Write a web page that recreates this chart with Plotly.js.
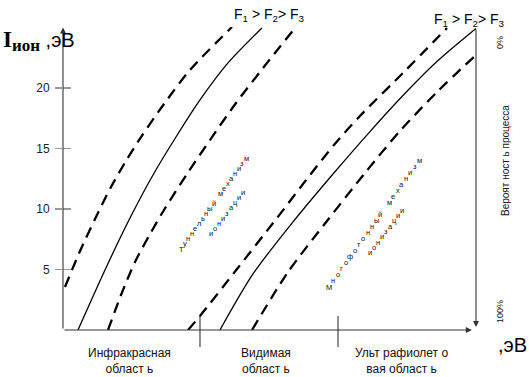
<!DOCTYPE html>
<html><head><meta charset="utf-8">
<script src="https://cdn.plot.ly/plotly-3.0.1.min.js"></script>
<style>html,body{margin:0;padding:0;background:#fff}</style>
</head><body><div id="chart" style="width:529px;height:377px"></div>
<script>
// ---- data (photon energy in arbitrary units, ionisation energy in eV) ----
const tickValues = [5, 10, 15, 20];
const tickLabels = ['5', '10', '15', '20'];

// tunnel mechanism group (left)
const tunnelF1x = [0.048, 0.412, 0.775, 1.162, 1.525, 1.889, 2.446, 3.075, 4.092];
const tunnelF1y = [3.55, 6.53, 9.17, 11.82, 13.97, 15.95, 18.68, 21.49, 25.04];
const tunnelF2x = [0.363, 1.017, 1.598, 2.179, 2.736, 3.317, 3.995, 4.818];
const tunnelF2y = [0, 4.96, 9.09, 12.81, 15.95, 19.01, 22.07, 24.96];
const tunnelF3x = [1.090, 1.404, 1.743, 2.107, 2.446, 3.002, 3.559, 4.189, 4.843, 5.617];
const tunnelF3y = [0, 2.89, 5.62, 7.93, 9.92, 12.89, 15.70, 18.76, 21.65, 24.96];

// multiphoton mechanism group (right)
const multiF1x = [3.027, 3.317, 4.213, 5.182, 5.981, 6.586, 7.191, 8.232, 9.298];
const multiF1y = [0, 1.16, 5.04, 9.26, 12.81, 15.39, 17.69, 21.24, 24.96];
const multiF2x = [3.801, 4.600, 5.569, 6.538, 7.433, 8.232, 9.080, 10.0];
const multiF2y = [0, 4.63, 8.93, 12.89, 16.40, 19.38, 22.27, 24.92];
const multiF3x = [4.576, 5.448, 6.392, 7.312, 8.160, 9.080, 10.0];
const multiF3y = [0, 4.79, 9.01, 12.98, 16.45, 19.75, 22.73];

// spectral region boundaries (same x units)
const regionBounds = [3.317, 6.659];
const regionLabels = ['Инфракрасная<br>област ь', 'Видимая<br>област ь', 'Ульт рафиолет о<br>вая област ь'];
const regionCenters = [1.62, 4.92, 8.2];

const forceLabel = 'F<sub>1</sub> > F<sub>2</sub>> F<sub>3</sub>';
const tunnelText = ['Туннельный механизм', 'ионизации'];
const multiText = ['Многофотонный механизм', 'ионизации'];
const probText = 'Вероят ност ь процесса';

// ---- layout geometry ----
const W = 529, H = 377, ML = 63, MR = 49, MT = 27, MB = 47;
const PW = W - ML - MR, PH = H - MT - MB;
const XMAX = PW / 41.3, YMAX = PH / 12.1;
function P(px, py) { return {x: (px - ML) / PW, y: (H - MB - py) / PH}; }

const dashed = {color: '#000', width: 2.3, dash: '11px,7px', shape: 'spline', smoothing: 0.8};
const solid = {color: '#000', width: 1.3, shape: 'spline', smoothing: 0.8};
function tr(x, y, line) { return {x: x, y: y, mode: 'lines', line: line, hoverinfo: 'skip', showlegend: false}; }

const traces = [
  tr(tunnelF1x, tunnelF1y, dashed), tr(tunnelF2x, tunnelF2y, solid), tr(tunnelF3x, tunnelF3y, dashed),
  tr(multiF1x, multiF1y, dashed), tr(multiF2x, multiF2y, solid), tr(multiF3x, multiF3y, dashed),
  {x: [0], y: [0], yaxis: 'y2', mode: 'markers', marker: {opacity: 0}, hoverinfo: 'skip', showlegend: false}
];

const ann = [];
function arrow(hx, hy, tx, ty) {
  ann.push({x: hx, y: hy, ax: tx, ay: ty, xref: 'x', yref: 'y', axref: 'x', ayref: 'y', text: '',
    showarrow: true, arrowhead: 2, arrowsize: 1.1, arrowwidth: 1.1, arrowcolor: '#333', standoff: 0, startstandoff: 0});
}
arrow(0, 25.0, 0, 0);
arrow(9.9, 0, 0, 0);
arrow(10, 0.25, 10, 24.96);

const FONT = 'Arial, Liberation Sans, sans-serif';
function txt(px, py, text, opts) {
  const p = P(px, py);
  ann.push(Object.assign({x: p.x, y: p.y, xref: 'paper', yref: 'paper', text: text, showarrow: false,
    font: {family: FONT, size: 13, color: '#111'}}, opts || {}));
}
txt(1, 41, '<span style="font-family:Liberation Serif;font-weight:bold;font-size:23px">I</span><sub><span style="font-family:Liberation Serif;font-weight:bold;font-size:17px">ион</span></sub> ,эВ',
  {xanchor: 'left', yanchor: 'middle', font: {family: FONT, size: 20, color: '#000'}});
txt(269, 15, forceLabel, {xanchor: 'center', yanchor: 'middle', font: {family: FONT, size: 14, color: '#000'}});
txt(469, 20, forceLabel, {xanchor: 'center', yanchor: 'middle', font: {family: FONT, size: 14, color: '#000'}});
txt(496, 345, ',эВ', {xanchor: 'left', yanchor: 'middle', font: {family: FONT, size: 20, color: '#000'}});
regionLabels.forEach(function (t, i) {
  const px = ML + regionCenters[i] * 41.3;
  txt(px, 361, t, {xanchor: 'center', yanchor: 'middle', font: {family: FONT, size: 12, color: '#111'}});
});
txt(500, 42, '0%', {textangle: -90, xanchor: 'center', yanchor: 'middle', font: {family: FONT, size: 9, color: '#111'}});
txt(500, 311, '100%', {textangle: -90, xanchor: 'center', yanchor: 'middle', font: {family: FONT, size: 9, color: '#111'}});
txt(505, 161, probText, {textangle: -90, xanchor: 'center', yanchor: 'middle', font: {family: FONT, size: 10, color: '#111'}});

function slanted(s, x0, y0, x1, y1) {
  const n = s.length - 1;
  for (let i = 0; i <= n; i++) {
    if (s[i] === ' ') continue;
    txt(x0 + (x1 - x0) * i / n, y0 + (y1 - y0) * i / n, s[i],
      {xanchor: 'center', yanchor: 'middle', borderpad: 0, font: {family: FONT, size: 7.5, color: '#111'}});
  }
}
slanted(tunnelText[0], 181, 249, 246, 158);
slanted(tunnelText[1], 211, 234, 243, 192);
slanted(multiText[0], 329, 287, 419, 160);
slanted(multiText[1], 370, 253, 402, 210);

const shapes = regionBounds.map(function (b) {
  return {type: 'line', xref: 'x', yref: 'paper', x0: b, x1: b, y0: P(0, 316).y, y1: P(0, 347).y,
    line: {color: '#333', width: 1.1}};
});

const axisCommon = {showgrid: false, zeroline: false, showline: false};
const layout = {
  width: W, height: H, margin: {l: ML, r: MR, t: MT, b: MB, pad: 0},
  paper_bgcolor: '#fff', plot_bgcolor: 'rgba(0,0,0,0)', showlegend: false,
  xaxis: Object.assign({range: [0, XMAX], showticklabels: false, ticks: ''}, axisCommon),
  yaxis: Object.assign({range: [0, YMAX], tickmode: 'array', tickvals: tickValues, ticktext: tickLabels,
    ticks: 'outside', ticklen: 7, tickwidth: 1.2, tickcolor: '#999', ticklabelstandoff: 3,
    tickfont: {family: FONT, size: 12, color: '#222'}}, axisCommon),
  yaxis2: Object.assign({range: [0, YMAX], overlaying: 'y', side: 'left', tickmode: 'array', tickvals: tickValues,
    showticklabels: false, ticks: 'inside', ticklen: 8, tickwidth: 1.2, tickcolor: '#999'}, axisCommon),
  annotations: ann, shapes: shapes
};
Plotly.newPlot('chart', traces, layout, {displayModeBar: false, staticPlot: true});
</script></body></html>
